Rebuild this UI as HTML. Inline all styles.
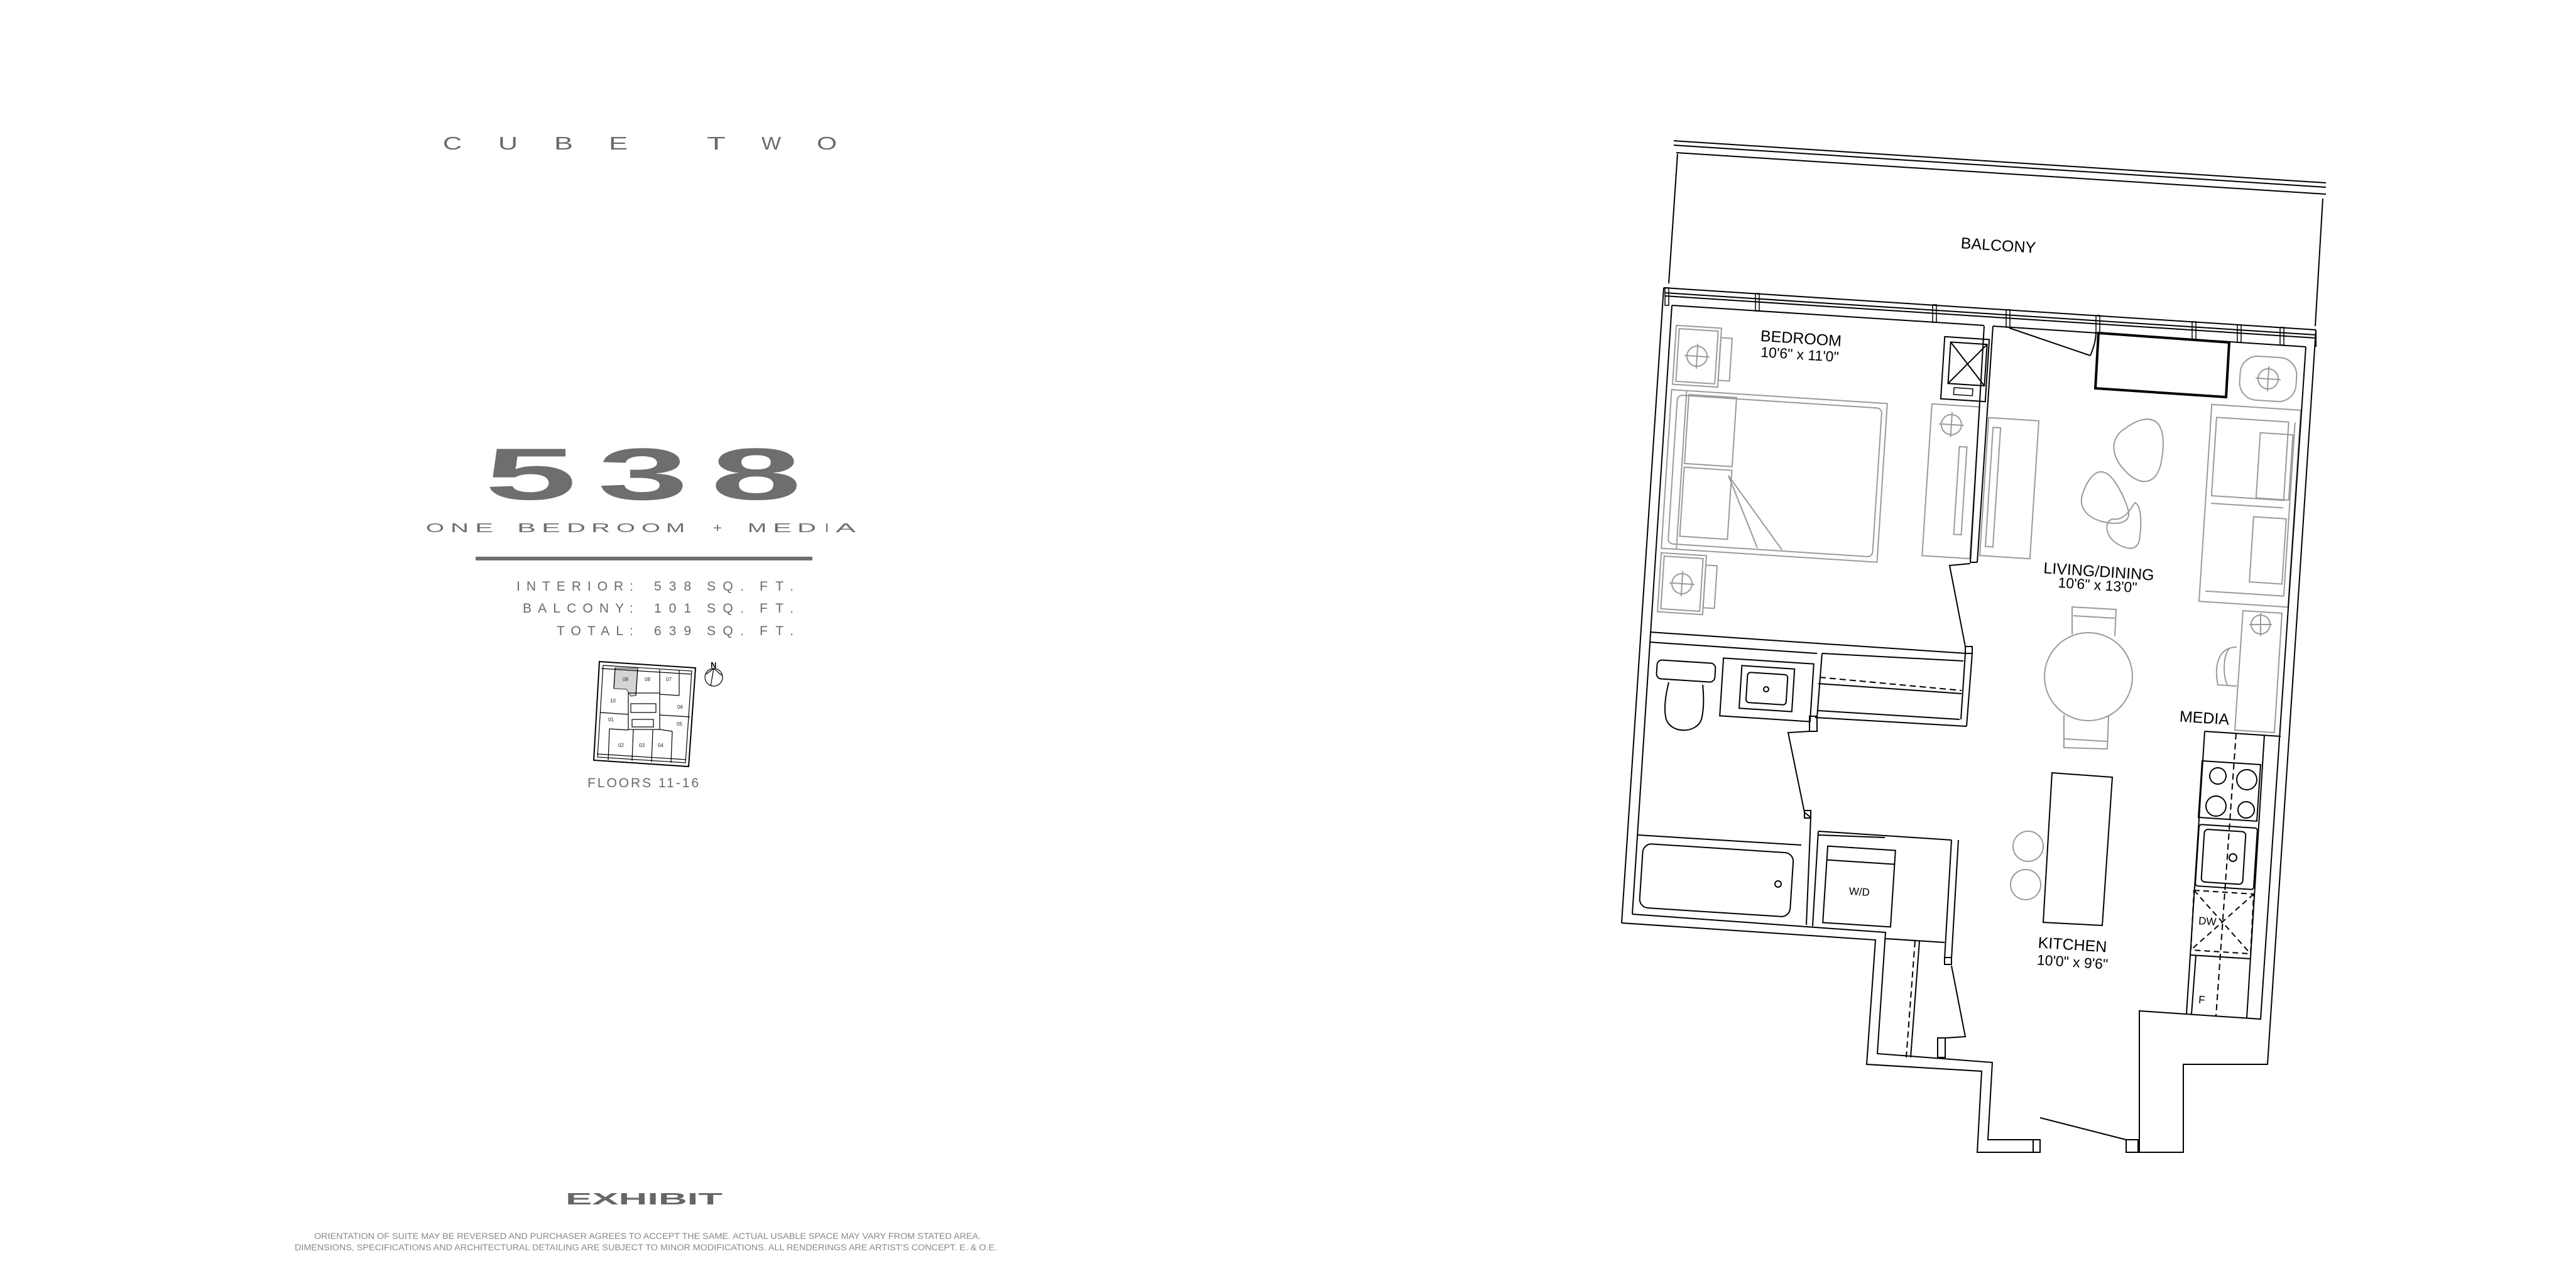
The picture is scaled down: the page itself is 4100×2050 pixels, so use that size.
<!DOCTYPE html>
<html><head><meta charset="utf-8"><style>html,body{margin:0;padding:0;background:#fff}svg{display:block}</style></head>
<body>
<svg width="4100" height="2050" viewBox="0 0 4100 2050" xmlns="http://www.w3.org/2000/svg" font-family="Liberation Sans, Arial, sans-serif">
<rect width="4100" height="2050" fill="#fff"/>

<!-- LEFT TEXT -->
<g fill="#6a6a6a" font-size="29">
<text x="705" y="238" textLength="30" lengthAdjust="spacingAndGlyphs">C</text>
<text x="793" y="238" textLength="31" lengthAdjust="spacingAndGlyphs">U</text>
<text x="882" y="238" textLength="30" lengthAdjust="spacingAndGlyphs">B</text>
<text x="969" y="238" textLength="30" lengthAdjust="spacingAndGlyphs">E</text>
<text x="1125" y="238" textLength="30" lengthAdjust="spacingAndGlyphs">T</text>
<text x="1212" y="238" textLength="31" lengthAdjust="spacingAndGlyphs">W</text>
<text x="1300" y="238" textLength="32" lengthAdjust="spacingAndGlyphs">O</text>
</g>
<g fill="#6e6e6e" font-size="117" font-weight="bold">
<text x="771" y="795" textLength="147" lengthAdjust="spacingAndGlyphs">5</text>
<text x="951" y="795" textLength="145" lengthAdjust="spacingAndGlyphs">3</text>
<text x="1131" y="795" textLength="145" lengthAdjust="spacingAndGlyphs">8</text>
</g>
<g fill="#6e6e6e" font-size="20">
<text x="678" y="847" textLength="29" lengthAdjust="spacingAndGlyphs">O</text>
<text x="717" y="847" textLength="29" lengthAdjust="spacingAndGlyphs">N</text>
<text x="756" y="847" textLength="29" lengthAdjust="spacingAndGlyphs">E</text>
<text x="823" y="847" textLength="30" lengthAdjust="spacingAndGlyphs">B</text>
<text x="862" y="847" textLength="30" lengthAdjust="spacingAndGlyphs">E</text>
<text x="902" y="847" textLength="30" lengthAdjust="spacingAndGlyphs">D</text>
<text x="941" y="847" textLength="30" lengthAdjust="spacingAndGlyphs">R</text>
<text x="981" y="847" textLength="30" lengthAdjust="spacingAndGlyphs">O</text>
<text x="1021" y="847" textLength="30" lengthAdjust="spacingAndGlyphs">O</text>
<text x="1060" y="847" textLength="30" lengthAdjust="spacingAndGlyphs">M</text>
<text x="1135" y="847" textLength="14" lengthAdjust="spacingAndGlyphs">+</text>
<text x="1190" y="847" textLength="30" lengthAdjust="spacingAndGlyphs">M</text>
<text x="1230" y="847" textLength="30" lengthAdjust="spacingAndGlyphs">E</text>
<text x="1269" y="847" textLength="30" lengthAdjust="spacingAndGlyphs">D</text>
<text x="1313" y="847" textLength="6" lengthAdjust="spacingAndGlyphs">I</text>
<text x="1330" y="847" textLength="32" lengthAdjust="spacingAndGlyphs">A</text>
</g>
<rect x="757" y="886" width="536" height="6" fill="#6e6e6e"/>
<g fill="#6a6a6a" font-size="21">
<text x="822" y="940" textLength="186" lengthAdjust="spacing">INTERIOR:</text>
<text x="1041" y="940" textLength="59" lengthAdjust="spacing">538</text>
<text x="1125" y="940" textLength="59" lengthAdjust="spacing">SQ.</text>
<text x="1209" y="940" textLength="54" lengthAdjust="spacing">FT.</text>
<text x="832" y="975" textLength="176" lengthAdjust="spacing">BALCONY:</text>
<text x="1041" y="975" textLength="59" lengthAdjust="spacing">101</text>
<text x="1125" y="975" textLength="59" lengthAdjust="spacing">SQ.</text>
<text x="1209" y="975" textLength="54" lengthAdjust="spacing">FT.</text>
<text x="886" y="1011" textLength="122" lengthAdjust="spacing">TOTAL:</text>
<text x="1041" y="1011" textLength="59" lengthAdjust="spacing">639</text>
<text x="1125" y="1011" textLength="59" lengthAdjust="spacing">SQ.</text>
<text x="1209" y="1011" textLength="54" lengthAdjust="spacing">FT.</text>
</g>

<!-- keyplan -->
<g stroke="#000" fill="none" stroke-width="1.2">
<polygon points="979,1063 1015,1064 1012,1107 1004,1108 997,1097 977,1096" fill="#d4d4d4" stroke="#555"/>
<polygon points="954,1053 1107,1063 1096,1220 945,1210" stroke-width="2"/>
<polygon points="960,1059 1101,1068 1091,1214 951,1205"/>
<line x1="957" y1="1064" x2="1100" y2="1073"/>
<line x1="950" y1="1200" x2="1092" y2="1209"/>
<line x1="979" y1="1063" x2="977" y2="1096"/>
<line x1="1015" y1="1064" x2="1012" y2="1107"/>
<line x1="1050" y1="1066" x2="1050" y2="1105"/>
<line x1="1050" y1="1105" x2="1081" y2="1107"/>
<line x1="1081" y1="1066" x2="1081" y2="1107"/>
<line x1="955" y1="1134" x2="1000" y2="1137"/>
<line x1="1050" y1="1138" x2="1098" y2="1141"/>
<rect x="1000" y="1103" width="50" height="58"/>
<rect x="1004" y="1120" width="40" height="14"/>
<rect x="1006" y="1145" width="34" height="12"/>
<line x1="970" y1="1160" x2="1000" y2="1162"/>
<line x1="970" y1="1160" x2="968" y2="1210"/>
<line x1="1008" y1="1161" x2="1006" y2="1211"/>
<line x1="1039" y1="1162" x2="1037" y2="1213"/>
<line x1="1070" y1="1164" x2="1068" y2="1214"/>
<line x1="1050" y1="1161" x2="1070" y2="1164"/>
<circle cx="1136" cy="1078" r="14"/>
<line x1="1136" y1="1064" x2="1124" y2="1073"/>
<line x1="1136" y1="1064" x2="1149" y2="1075"/>
<line x1="1136" y1="1064" x2="1131" y2="1092"/>
</g>
<g font-size="8" fill="#222">
<text x="991" y="1084">09</text><text x="1026" y="1084">08</text><text x="1060" y="1084">07</text>
<text x="971" y="1118">10</text><text x="1078" y="1128">06</text><text x="968" y="1148">01</text>
<text x="1077" y="1155">05</text><text x="984" y="1189">02</text><text x="1017" y="1189">03</text><text x="1047" y="1189">04</text>
</g>
<text x="1131" y="1063" font-size="13" font-weight="bold" fill="#000">N</text>
<text x="935" y="1253" font-size="21" fill="#6a6a6a" textLength="177" lengthAdjust="spacing">FLOORS 11-16</text>

<text x="900" y="1917" font-size="26" font-weight="bold" fill="#666" textLength="250" lengthAdjust="spacingAndGlyphs">EXHIBIT</text>
<g fill="#888" font-size="13.5">
<text x="500" y="1972" textLength="1061" lengthAdjust="spacingAndGlyphs">ORIENTATION OF SUITE MAY BE REVERSED AND PURCHASER AGREES TO ACCEPT THE SAME.  ACTUAL USABLE SPACE MAY VARY FROM STATED AREA.</text>
<text x="469" y="1990" textLength="1118" lengthAdjust="spacingAndGlyphs">DIMENSIONS, SPECIFICATIONS AND ARCHITECTURAL DETAILING ARE SUBJECT TO MINOR MODIFICATIONS. ALL RENDERINGS ARE ARTIST'S CONCEPT.  E. &amp; O.E.</text>
</g>

<!-- FLOOR PLAN -->
<!-- gray furniture -->
<g stroke="#9a9a9a" fill="none" stroke-width="2">
<!-- bed -->
<g transform="rotate(3.7 2824 758)">
<rect x="2652" y="631" width="344" height="253"/>
<rect x="2662" y="639" width="326" height="237" rx="8"/>
<line x1="2676" y1="631" x2="2676" y2="884"/>
<rect x="2680" y="637" width="76" height="110"/>
<rect x="2680" y="753" width="76" height="110"/>
</g>
<line x1="2751" y1="757" x2="2797" y2="872"/>
<line x1="2751" y1="757" x2="2836" y2="875"/>
<!-- nightstands -->
<g transform="rotate(3.7 2701 567)"><rect x="2665" y="520" width="72" height="94"/><rect x="2670" y="525" width="62" height="84"/><rect x="2737" y="535" width="18" height="68"/><circle cx="2701" cy="567" r="16"/><line x1="2681" y1="567" x2="2721" y2="567"/><line x1="2701" y1="547" x2="2701" y2="587"/></g>
<g transform="rotate(3.7 2677 929)"><rect x="2641" y="882" width="72" height="94"/><rect x="2646" y="887" width="62" height="84"/><rect x="2713" y="897" width="18" height="68"/><circle cx="2677" cy="929" r="16"/><line x1="2657" y1="929" x2="2697" y2="929"/><line x1="2677" y1="909" x2="2677" y2="949"/></g>
<!-- dresser -->
<g transform="rotate(3.7 3105 766)"><rect x="3067" y="645" width="76" height="242"/><rect x="3115" y="710" width="12" height="140"/><circle cx="3100" cy="676" r="16"/><line x1="3080" y1="676" x2="3120" y2="676"/><line x1="3100" y1="656" x2="3100" y2="696"/></g>
<!-- tv -->
<g transform="rotate(3.7 3198 777)"><rect x="3158" y="667" width="80" height="220"/><rect x="3166" y="682" width="12" height="190"/></g>
<!-- pebbles -->
<path d="M3410,668 C3440,662 3448,690 3440,735 C3432,775 3405,772 3385,752 C3360,728 3358,700 3378,685 C3390,676 3400,670 3410,668Z"/>
<path d="M3345,751 C3365,752 3385,800 3388,815 C3390,833 3370,836 3345,830 C3318,822 3308,805 3315,785 C3322,765 3333,750 3345,751Z"/>
<path d="M3398,800 C3410,805 3408,840 3405,860 C3400,880 3380,873 3365,862 C3350,850 3350,830 3362,826 C3380,830 3390,812 3398,800Z"/>
<!-- sofa -->
<g transform="rotate(3.7 3581 805)"><rect x="3510" y="648" width="142" height="314"/><rect x="3519" y="668" width="115" height="125"/><line x1="3519" y1="805" x2="3634" y2="805"/><rect x="3590" y="688" width="52" height="104"/><rect x="3588" y="822" width="52" height="104"/><line x1="3644" y1="668" x2="3644" y2="945"/><line x1="3519" y1="945" x2="3644" y2="945"/></g>
<!-- side table -->
<g transform="rotate(3.7 3610 603)"><rect x="3565" y="568" width="90" height="70" rx="28"/><circle cx="3610" cy="603" r="16"/><line x1="3590" y1="603" x2="3630" y2="603"/><line x1="3610" y1="583" x2="3610" y2="623"/></g>
<!-- dining -->
<circle cx="3324" cy="1077" r="70"/>
<path d="M3298,1010 L3298,966 L3368,970 L3366,1012 M3300,980 L3366,984"/>
<path d="M3285,1138 L3285,1190 L3354,1192 L3356,1140 M3285,1176 L3354,1180"/>
<!-- media desk -->
<polygon points="3570,972 3632,976 3620,1166 3557,1162"/>
<circle cx="3598" cy="994" r="15"/><line x1="3580" y1="994" x2="3616" y2="994"/><line x1="3598" y1="976" x2="3598" y2="1012"/>
<path d="M3560,1030 C3530,1030 3524,1060 3530,1090 L3560,1092 M3548,1032 C3538,1045 3538,1075 3545,1090"/>
<!-- stools -->
<circle cx="3228" cy="1347" r="24"/><circle cx="3224" cy="1408" r="24"/>
</g>

<!-- black lines -->
<g stroke="#000" fill="none" stroke-width="2">
<!-- balcony -->
<line x1="2664" y1="224" x2="3702" y2="291"/>
<line x1="2664" y1="231" x2="3702" y2="298"/>
<line x1="2668" y1="243" x2="3702" y2="309"/>
<line x1="2670" y1="245" x2="2656" y2="451"/>
<line x1="3697" y1="316" x2="3685" y2="519"/>
<!-- window wall -->
<line x1="2648" y1="458" x2="3686" y2="525"/>
<line x1="2650" y1="466" x2="3686" y2="533"/>
<line x1="2650" y1="471" x2="3686" y2="538"/>
<line x1="2661" y1="486" x2="3158" y2="518"/>
<line x1="3172" y1="519" x2="3670" y2="552"/>
<line x1="3686" y1="525" x2="3686" y2="552"/>
<g stroke-width="1.5">
<rect x="2794" y="467" width="6" height="28"/><rect x="3076" y="485" width="6" height="28"/><rect x="3193" y="493" width="6" height="28"/><rect x="3336" y="502" width="6" height="28"/><rect x="3489" y="512" width="6" height="28"/><rect x="3561" y="517" width="6" height="28"/><rect x="3629" y="521" width="6" height="28"/><rect x="2650" y="458" width="6" height="28"/>
</g>
<!-- exterior left -->
<line x1="2648" y1="458" x2="2581" y2="1469"/>
<line x1="2661" y1="486" x2="2598" y2="1455"/>
<polyline points="2581,1469 2985,1496 2971,1694 3154,1705 3147,1834 3242,1834"/>
<polyline points="2598,1455 3001,1484 2988,1677 3171,1691 3164,1814 3242,1814"/>
<line x1="3247" y1="1779" x2="3384" y2="1814"/>
<rect x="3236" y="1814" width="11" height="20"/>
<rect x="3384" y="1814" width="19" height="20"/>
<polyline points="3403,1834 3475,1834 3475,1694 3609,1694 3686,525"/>
<polyline points="3405,1834 3405,1609 3598,1622 3670,552"/>
<!-- bed/living partition -->
<line x1="3158" y1="519" x2="3136" y2="895"/>
<line x1="3172" y1="519" x2="3147" y2="895"/>
<polyline points="3136,895 3147,895"/>
<polyline points="3136,897 3103,900 3128,1029"/>
<rect x="3128" y="1029" width="11" height="11"/>
<!-- hvac closet -->
<g transform="rotate(3.7 3127 588)"><rect x="3092" y="538" width="71" height="99"/><rect x="3102" y="546" width="58" height="66"/><line x1="3102" y1="546" x2="3160" y2="612"/><line x1="3160" y1="546" x2="3102" y2="612"/><rect x="3112" y="618" width="30" height="11" stroke-width="1.5"/></g>
<!-- bedroom bottom wall & closet -->
<line x1="2626" y1="1006" x2="3130" y2="1040"/>
<line x1="2626" y1="1022" x2="2892" y2="1040"/>
<line x1="2900" y1="1040" x2="3125" y2="1052"/>
<line x1="2896" y1="1078" x2="3122" y2="1099" stroke-dasharray="10 6"/>
<line x1="2894" y1="1088" x2="3122" y2="1104"/>
<line x1="2893" y1="1131" x2="3119" y2="1145"/>
<line x1="2889" y1="1142" x2="3130" y2="1156"/>
<line x1="3128" y1="1040" x2="3121" y2="1145"/>
<line x1="3139" y1="1040" x2="3130" y2="1156"/>
<line x1="2900" y1="1040" x2="2892" y2="1142"/>
<rect x="2880" y="1140" width="12" height="24"/>
<!-- bathroom -->
<g transform="rotate(3.7 2683 1067)"><rect x="2637" y="1053" width="93" height="30" rx="8"/></g>
<path d="M2656,1086 C2650,1110 2648,1130 2652,1145 C2660,1168 2700,1168 2708,1145 C2712,1130 2712,1110 2710,1090"/>
<g transform="rotate(3.7 2812 1098)"><rect x="2740" y="1052" width="144" height="92"/><rect x="2770" y="1062" width="84" height="68"/><rect x="2780" y="1072" width="64" height="48" rx="5"/></g>
<circle cx="2811" cy="1097" r="4"/>
<polyline points="2880,1164 2846,1166 2872,1293 2882,1301"/>
<rect x="2872" y="1290" width="10" height="12"/>
<line x1="2882" y1="1301" x2="2875" y2="1472"/>
<line x1="2894" y1="1323" x2="2885" y2="1474"/>
<line x1="2607" y1="1329" x2="2867" y2="1345"/>
<g transform="rotate(3.7 2731 1400)"><rect x="2612" y="1350" width="240" height="102" rx="14"/></g>
<circle cx="2830" cy="1407" r="5"/>
<!-- laundry -->
<line x1="2894" y1="1323" x2="3106" y2="1337"/>
<line x1="2894" y1="1329" x2="3000" y2="1333"/>
<g transform="rotate(3.7 2959 1411)"><rect x="2905" y="1350" width="108" height="122"/><line x1="2905" y1="1372" x2="3013" y2="1372"/></g>
<line x1="3106" y1="1337" x2="3095" y2="1526"/>
<line x1="3117" y1="1337" x2="3106" y2="1526"/>
<rect x="3095" y="1524" width="11" height="11"/>
<polyline points="3106,1537 3128,1650 3096,1652"/>
<rect x="3084" y="1652" width="12" height="31"/>
<line x1="3001" y1="1494" x2="3095" y2="1500"/>
<line x1="3048" y1="1498" x2="3034" y2="1683" stroke-dasharray="10 6"/>
<line x1="3055" y1="1498" x2="3041" y2="1683"/>
<!-- balcony door -->
<polyline points="3198,522 3327,566"/>
<path d="M3327,566 C3333,552 3336,540 3336,528"/>
<polygon points="3340,530 3548,545 3543,632 3335,618" stroke-width="4"/>
<!-- kitchen -->
<line x1="3509" y1="1164" x2="3480" y2="1614"/>
<line x1="3604" y1="1170" x2="3576" y2="1620"/>
<line x1="3509" y1="1164" x2="3630" y2="1172"/>
<line x1="3559" y1="1167" x2="3527" y2="1617" stroke-dasharray="10 6"/>
<polygon points="3505,1211 3598,1217 3592,1307 3499,1301"/>
<circle cx="3530" cy="1235" r="13"/><circle cx="3576" cy="1241" r="16"/><circle cx="3527" cy="1283" r="16"/><circle cx="3575" cy="1289" r="13"/>
<g transform="rotate(3.7 3543 1364)"><rect x="3497" y="1315" width="93" height="98" rx="4"/><rect x="3506" y="1322" width="66" height="84" rx="6"/></g>
<circle cx="3554" cy="1365" r="6"/>
<polygon points="3492,1417 3587,1423 3582,1518 3487,1512" stroke-dasharray="9 6"/>
<line x1="3492" y1="1417" x2="3582" y2="1518" stroke-dasharray="9 6"/>
<line x1="3587" y1="1423" x2="3487" y2="1512" stroke-dasharray="9 6"/>
<line x1="3486" y1="1520" x2="3582" y2="1526"/>
<line x1="3495" y1="1521" x2="3488" y2="1614"/>
<polygon points="3266,1230 3362,1237 3346,1473 3252,1468"/>
</g>

<!-- plan labels -->
<g fill="#000" font-size="25" text-anchor="middle">
<text transform="translate(3180,399) rotate(3.7)">BALCONY</text>
<text transform="translate(2866,547) rotate(3.7)">BEDROOM</text>
<text transform="translate(2864,572) rotate(3.7)" font-size="23">10'6" x 11'0"</text>
<text transform="translate(3340,918) rotate(3.7)">LIVING/DINING</text>
<text transform="translate(3338,939) rotate(3.7)" font-size="23">10'6" x 13'0"</text>
<text transform="translate(3508,1151) rotate(3.7)">MEDIA</text>
<text transform="translate(3298,1512) rotate(3.7)">KITCHEN</text>
<text transform="translate(3298,1539) rotate(3.7)" font-size="23">10'0" x 9'6"</text>
<text transform="translate(2959,1425) rotate(3.7)" font-size="17">W/D</text>
<text transform="translate(3513,1472) rotate(3.7)" font-size="17">DW</text>
<text transform="translate(3504,1597) rotate(3.7)" font-size="17">F</text>
</g>
</svg>
</body></html>
